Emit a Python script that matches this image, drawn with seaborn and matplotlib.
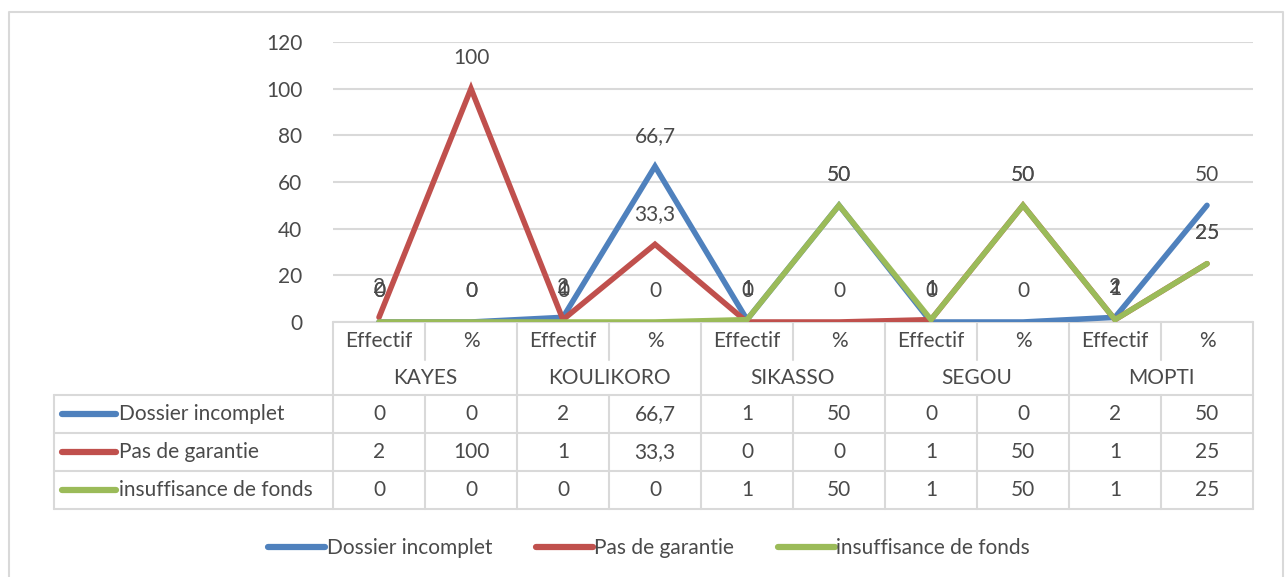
import pandas as pd
import matplotlib.pyplot as plt
import seaborn as sns

# donnees du graphique
regions = ["KAYES", "KOULIKORO", "SIKASSO", "SEGOU", "MOPTI"]
mesures = ["Effectif", "%"]
series = ["Dossier incomplet", "Pas de garantie", "insuffisance de fonds"]
dossier = [0, 0, 2, 66.7, 1, 50, 0, 0, 2, 50]
garantie = [2, 100, 1, 33.3, 0, 0, 1, 50, 1, 25]
fonds = [0, 0, 0, 0, 1, 50, 1, 50, 1, 25]
couleurs = ["#4F81BD", "#C0504D", "#9BBB59"]

valeurs = [dossier, garantie, fonds]
rows = []
for s, vals in zip(series, valeurs):
    for i, v in enumerate(vals):
        rows.append({"pos": i, "valeur": v, "serie": s})
df = pd.DataFrame(rows)


def fmt(v):
    if float(v).is_integer():
        return str(int(v))
    return "{:.1f}".format(v).replace(".", ",")


sns.set_style("white")
plt.rcParams["font.family"] = ["Lato", "DejaVu Sans"]
txt = "#4A4A4A"
grille = "#D9D9D9"
fs = 15

W, H = 1286, 577
fig = plt.figure(figsize=(W / 100, H / 100), dpi=100)

# axe de fond en pixels pour le tableau et le cadre
bg = fig.add_axes([0, 0, 1, 1], zorder=0)
bg.set_xlim(0, W)
bg.set_ylim(H, 0)
bg.axis("off")

x0, x1, ytop, ybot = 333, 1253, 42, 322
ax = fig.add_axes([x0 / W, (H - ybot) / H, (x1 - x0) / W, (ybot - ytop) / H], zorder=1)
ax.set_facecolor("none")

sns.lineplot(data=df, x="pos", y="valeur", hue="serie", hue_order=series,
             palette=couleurs, linewidth=4.0, ax=ax, legend=True,
             solid_capstyle="round", solid_joinstyle="miter")

ax.set_xlim(-0.5, len(dossier) - 0.5)
ax.set_ylim(0, 120)
ax.set_yticks(range(0, 121, 20))
ax.set_xticks([])
ax.set_xlabel("")
ax.set_ylabel("")
ax.tick_params(axis="y", length=0, pad=22, labelsize=fs, labelcolor=txt)
ax.yaxis.grid(True, color=grille, linewidth=1.5)
for sp in ax.spines.values():
    sp.set_visible(False)

# etiquettes de donnees
for s, vals in zip(series, valeurs):
    for i, v in enumerate(vals):
        ax.annotate(fmt(v), (i, v), xytext=(0, 22), textcoords="offset points",
                    ha="center", va="center", fontsize=fs, color=txt,
                    annotation_clip=False)

# legende
handles, labels = ax.get_legend_handles_labels()
ax.legend(handles, labels, loc="center", bbox_to_anchor=(649 / W, 29 / H),
          bbox_transform=fig.transFigure, ncol=3, frameon=False, fontsize=fs,
          handlelength=2.75, handletextpad=0.05, columnspacing=2.1,
          labelcolor=txt)
for h in ax.get_legend().get_lines():
    h.set_linewidth(4.5)
    h.set_solid_capstyle("round")

# tableau de donnees
colw = (x1 - x0) / len(dossier)
lc = dict(color=grille, linewidth=1.5)
bg.plot([x0, x1], [ybot, ybot], **lc)
bg.plot([x0, x0], [ybot, 509], **lc)
bg.plot([54, 54], [395, 509], **lc)
for yy in [395, 433, 471, 509]:
    bg.plot([54, x1], [yy, yy], **lc)
for k in range(len(regions)):
    xa = x0 + 2 * k * colw
    xm = xa + colw
    xb = xa + 2 * colw
    bg.plot([xb, xb], [ybot, 509], **lc)
    bg.plot([xm, xm], [ybot, 360], **lc)
    bg.plot([xm, xm], [395, 509], **lc)
    bg.text(xm, 378, regions[k], ha="center", va="center", fontsize=fs, color=txt)
    for j, m in enumerate(mesures):
        bg.text(xa + (j + 0.5) * colw, 341, m, ha="center", va="center",
                fontsize=fs, color=txt)

row_y = [414, 452, 490]
for s, vals, c, yy in zip(series, valeurs, couleurs, row_y):
    bg.plot([62, 116], [yy, yy], color=c, linewidth=4.5, solid_capstyle="round")
    bg.text(119, yy, s, ha="left", va="center", fontsize=fs, color=txt)
    for i, v in enumerate(vals):
        bg.text(x0 + (i + 0.5) * colw, yy, fmt(v), ha="center", va="center",
                fontsize=fs, color=txt)

# cadre exterieur
bg.plot([9, 9, 1283, 1283], [H, 12, 12, H], color=grille, linewidth=1.5)

fig.savefig("out.png", dpi=100)
